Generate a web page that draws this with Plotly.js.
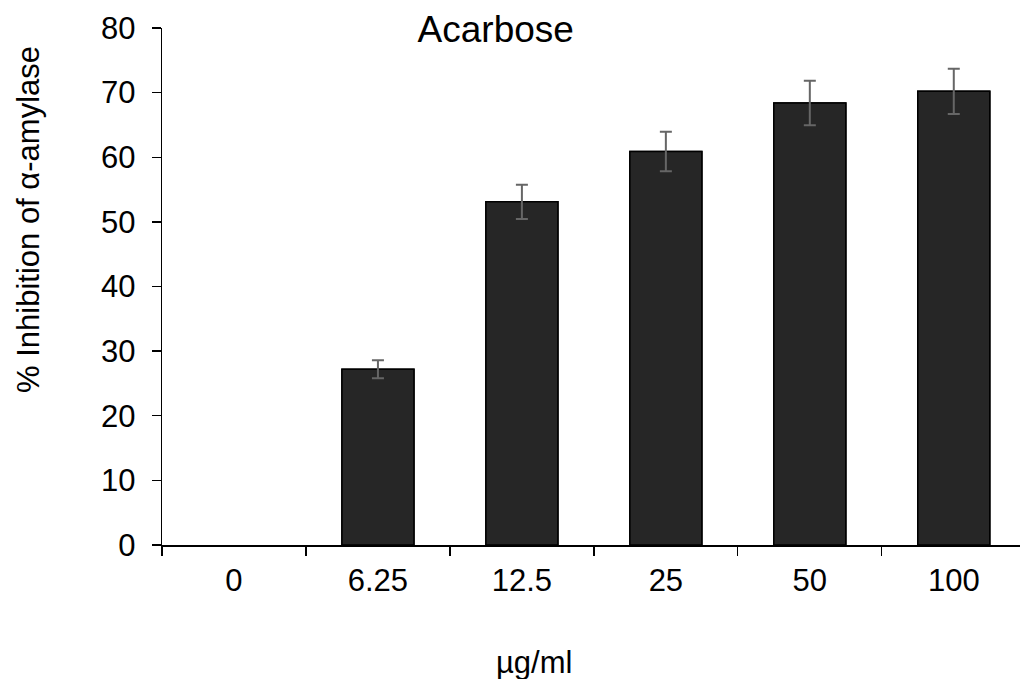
<!DOCTYPE html>
<html>
<head>
<meta charset="utf-8">
<script src="https://cdn.plot.ly/plotly-3.0.1.min.js"></script>
<style>html,body{margin:0;padding:0;background:#fff;}#chart{width:1020px;height:679px;}</style>
</head>
<body>
<div id="chart"></div>
<script>
const categories = ["0", "6.25", "12.5", "25", "50", "100"];
const inhibition = [0, 27.2, 53.1, 60.9, 68.4, 70.2];
const errors = [0, 1.4, 2.65, 3.05, 3.45, 3.5];
const yTicks = [0, 10, 20, 30, 40, 50, 60, 70, 80];
const xTitle = "µg/ml";
const yTitle = "% Inhibition of α-amylase";
const chartTitle = "Acarbose";

const FONT = "Liberation Sans, Arial, sans-serif";

const trace = {
  type: "bar",
  x: categories,
  y: inhibition,
  marker: {
    color: inhibition.map(v => v === 0 ? "rgba(0,0,0,0)" : "#262626"),
    line: {color: "#000000", width: inhibition.map(v => v === 0 ? 0 : 1.5)}
  },
  hoverinfo: "x+y"
};

const errTrace = {
  type: "bar",
  x: categories.filter((c, i) => inhibition[i] !== 0),
  y: inhibition.filter(v => v !== 0),
  marker: {color: "#262626", line: {color: "#000000", width: 1.5}},
  error_y: {type: "data", array: errors.filter((e, i) => inhibition[i] !== 0), visible: true, color: "#666666", thickness: 2, width: 6},
  hoverinfo: "x+y"
};

const layout = {
  width: 1020,
  height: 679,
  margin: {l: 162, r: 0, t: 28, b: 134},
  paper_bgcolor: "#ffffff",
  plot_bgcolor: "#ffffff",
  showlegend: false,
  barmode: "overlay",
  bargap: 0.5,
  font: {family: FONT, color: "#000000"},
  title: {
    text: chartTitle,
    font: {family: FONT, size: 37, color: "#000000"},
    xref: "container", yref: "container",
    x: 0.486, xanchor: "center",
    y: 0.957, yanchor: "middle"
  },
  xaxis: {
    type: "category",
    categoryorder: "array",
    categoryarray: categories,
    range: [-0.5, 5.46],
    tickson: "boundaries",
    ticks: "outside",
    ticklen: 9,
    tickwidth: 1.3,
    tickcolor: "#000000",
    showline: true,
    linecolor: "#000000",
    linewidth: 2,
    showgrid: false,
    zeroline: false,
    tickfont: {family: FONT, size: 31, color: "#000000"},
    ticklabelstandoff: 7,
    automargin: false
  },
  yaxis: {
    range: [0, 80],
    tickvals: yTicks,
    ticktext: yTicks.map(String),
    ticks: "outside",
    ticklen: 9,
    tickwidth: 1.3,
    tickcolor: "#000000",
    showline: true,
    linecolor: "#000000",
    linewidth: 1.3,
    showgrid: false,
    zeroline: false,
    tickfont: {family: FONT, size: 31, color: "#000000"},
    ticklabelstandoff: 10,
    automargin: false
  },
  annotations: [
    {
      text: yTitle, textangle: -90, showarrow: false,
      xref: "paper", yref: "paper",
      x: -0.1, xanchor: "center",
      y: (545 - 220) / 517, yanchor: "middle",
      xshift: -(162 - 29) + 0.1 * 858,
      font: {family: FONT, size: 31, color: "#000000"}
    },
    {
      text: xTitle, showarrow: false,
      xref: "paper", yref: "paper",
      x: (534 - 162) / 858, xanchor: "center",
      y: -(662 - 545) / 517, yanchor: "middle",
      font: {family: FONT, size: 31, color: "#000000"}
    }
  ]
};

Plotly.newPlot("chart", [trace, errTrace], layout, {displayModeBar: false, staticPlot: true});
</script>
</body>
</html>
